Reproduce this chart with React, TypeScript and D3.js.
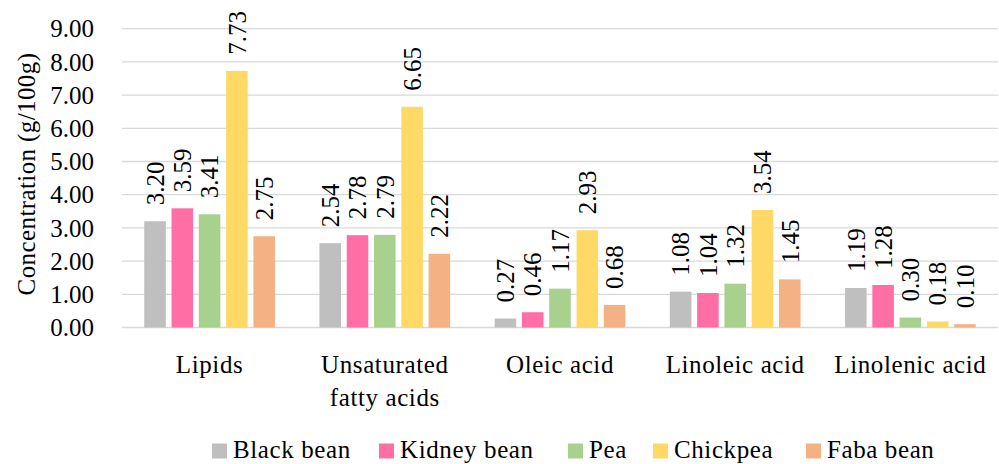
import React from "react";
import * as d3 from "d3";

const categories = ["Lipids", "Unsaturated fatty acids", "Oleic acid", "Linoleic acid", "Linolenic acid"];
const categoryLines = [["Lipids"], ["Unsaturated", "fatty acids"], ["Oleic acid"], ["Linoleic acid"], ["Linolenic acid"]];
const series = ["Black bean", "Kidney bean", "Pea", "Chickpea", "Faba bean"];
const blackBean = [3.2, 2.54, 0.27, 1.08, 1.19];
const kidneyBean = [3.59, 2.78, 0.46, 1.04, 1.28];
const pea = [3.41, 2.79, 1.17, 1.32, 0.3];
const chickpea = [7.73, 6.65, 2.93, 3.54, 0.18];
const fabaBean = [2.75, 2.22, 0.68, 1.45, 0.1];
const yTicks = [0, 1, 2, 3, 4, 5, 6, 7, 8, 9];
const colors = ["#BFBFBF", "#FF6FA6", "#A9D18E", "#FFD966", "#F4B183"];

const W = 999;
const H = 464;
const FONT = "'Liberation Serif', 'Times New Roman', serif";

export default function App() {
  const values = [blackBean, kidneyBean, pea, chickpea, fabaBean];
  const y = d3.scaleLinear().domain([0, 9]).range([327.5, 28.7]);
  const x0 = d3.scaleBand<string>().domain(categories).range([122, 998]).padding(0);
  const x1 = d3
    .scaleBand<string>()
    .domain(series)
    .range([0, x0.bandwidth()])
    .paddingInner(0.21)
    .paddingOuter(0.815);

  const legendX = [212, 379, 568, 653, 806];

  return (
    <svg
      width={W}
      height={H}
      style={{ position: "absolute", left: 0, top: 0, background: "#fff" }}
      fontFamily={FONT}
    >
      <rect width={W} height={H} fill="#fff" />
      {yTicks.map((t) => (
        <g key={t}>
          <line x1={122} x2={998} y1={y(t)} y2={y(t)} stroke="#D9D9D9" strokeWidth={1.3} />
          <text x={94} y={y(t)} dy="0.35em" textAnchor="end" fontSize={25} fill="#000">
            {t.toFixed(2)}
          </text>
        </g>
      ))}
      <text
        transform={`translate(26,174) rotate(-90)`}
        textAnchor="middle"
        dy="0.35em"
        fontSize={25}
        letterSpacing={0.4}
      >
        Concentration (g/100g)
      </text>
      {categories.map((c, ci) => (
        <g key={c} transform={`translate(${x0(c)},0)`}>
          {series.map((s, si) => {
            const v = values[si][ci];
            const bx = x1(s)!;
            const bw = x1.bandwidth();
            return (
              <g key={s}>
                <rect x={bx} y={y(v)} width={bw} height={y(0) - y(v)} fill={colors[si]} />
                <text
                  transform={`translate(${bx + bw / 2},${y(v) - 16}) rotate(-90)`}
                  dy="0.35em"
                  textAnchor="start"
                  fontSize={25}
                >
                  {v.toFixed(2)}
                </text>
              </g>
            );
          })}
          {categoryLines[ci].map((line, li) => (
            <text
              key={li}
              x={x0.bandwidth() / 2}
              y={373 + li * 33}
              textAnchor="middle"
              fontSize={25}
              letterSpacing={0.6}
            >
              {line}
            </text>
          ))}
        </g>
      ))}
      {series.map((s, si) => (
        <g key={s} transform={`translate(${legendX[si]},0)`}>
          <rect x={0} y={443.5} width={15} height={15} fill={colors[si]} />
          <text x={21} y={458} fontSize={25} letterSpacing={0.6}>
            {s}
          </text>
        </g>
      ))}
    </svg>
  );
}
